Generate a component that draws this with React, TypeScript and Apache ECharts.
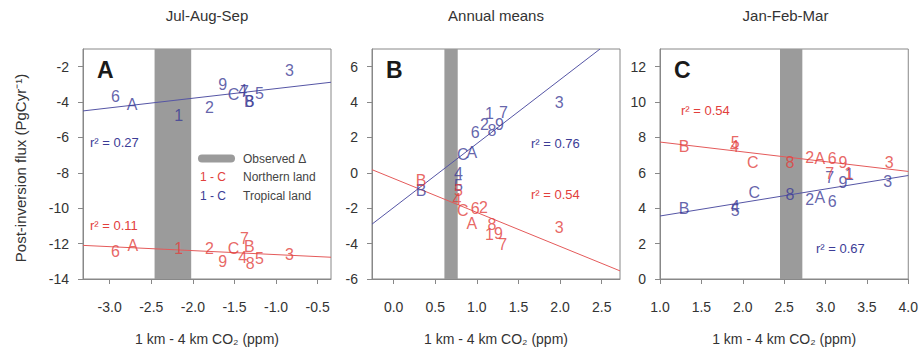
import React, { useEffect, useRef } from "react";
import * as echarts from "echarts";

const LABELS = ["1", "2", "3", "4", "5", "6", "7", "8", "9", "A", "B", "C"];
const TITLES = ["Jul-Aug-Sep", "Annual means", "Jan-Feb-Mar"];
const PANEL_LETTERS = ["A", "B", "C"];

// Panel A (Jul-Aug-Sep)
const A_NORTH_X = [-2.17, -1.8, -0.84, -1.4, -1.2, -2.93, -1.38, -1.31, -1.64, -2.72, -1.32, -1.51];
const A_NORTH_Y = [-12.25, -12.25, -12.62, -12.77, -12.84, -12.43, -11.69, -13.13, -13.02, -12.1, -12.19, -12.25];
const A_TROP_X = [-2.17, -1.8, -0.84, -1.4, -1.2, -2.93, -1.38, -1.32, -1.64, -2.73, -1.32, -1.51];
const A_TROP_Y = [-4.78, -4.32, -2.2, -3.36, -3.49, -3.67, -3.4, -3.95, -3.03, -4.14, -3.95, -3.58];

// Panel B (Annual means)
const B_NORTH_X = [1.15, 1.08, 1.99, 0.76, 0.78, 0.98, 1.31, 1.18, 1.26, 0.94, 0.33, 0.83];
const B_NORTH_Y = [-3.51, -1.95, -3.11, -1.48, -0.97, -2.03, -4.03, -2.92, -3.42, -2.86, -0.41, -2.13];
const B_TROP_X = [1.15, 1.09, 1.99, 0.78, 0.78, 0.98, 1.32, 1.18, 1.27, 0.94, 0.33, 0.83];
const B_TROP_Y = [3.35, 2.72, 3.96, -0.04, -0.7, 2.3, 3.4, 2.42, 2.72, 1.13, -1.02, 1.01];

// Panel C (Jan-Feb-Mar)
const C_NORTH_X = [3.28, 2.81, 3.77, 1.9, 1.91, 3.08, 3.05, 2.57, 3.21, 2.93, 1.29, 2.12];
const C_NORTH_Y = [5.99, 6.88, 6.58, 7.47, 7.74, 6.82, 5.99, 6.58, 6.58, 6.82, 7.47, 6.58];
const C_TROP_X = [3.29, 2.81, 3.75, 1.91, 1.91, 3.08, 3.05, 2.57, 3.21, 2.93, 1.29, 2.14];
const C_TROP_Y = [5.9, 4.52, 5.53, 4.11, 3.87, 4.39, 5.71, 4.79, 5.44, 4.61, 3.97, 4.88];

// Regression lines (endpoints)
const A_NORTH_FIT = [[-3.32, -12.1], [-0.34, -12.77]];
const A_TROP_FIT = [[-3.32, -4.5], [-0.34, -2.88]];
const B_NORTH_FIT = [[-0.26, 0.18], [2.72, -5.54]];
const B_TROP_FIT = [[-0.26, -2.9], [2.48, 7.0]];
const C_NORTH_FIT = [[1.0, 7.74], [4.0, 6.08]];
const C_TROP_FIT = [[1.0, 3.56], [4.0, 5.85]];

// Observed delta bands
const OBS_BANDS = [[-2.46, -2.02], [0.61, 0.77], [2.45, 2.72]];

// r-squared values
const R2_NORTH = ["0.11", "0.54", "0.54"];
const R2_TROP = ["0.27", "0.76", "0.67"];

// Axes
const X_MIN = [-3.32, -0.26, 1.0];
const X_MAX = [-0.34, 2.72, 4.0];
const X_TICKS = [
  [-3.0, -2.5, -2.0, -1.5, -1.0, -0.5],
  [0.0, 0.5, 1.0, 1.5, 2.0, 2.5],
  [1.0, 1.5, 2.0, 2.5, 3.0, 3.5, 4.0],
];
const Y_MIN = [-14, -6, 0];
const Y_MAX = [-1, 7, 13];

const RED = "#e2403c";
const BLUE = "#3c3c96";
const RED_LINE = "#e45a5a";
const BLUE_LINE = "#5555a5";
const FONT = "Liberation Sans, Arial, sans-serif";

const GRIDS = [
  { left: 83, top: 49, width: 248, height: 236 },
  { left: 372, top: 49, width: 248, height: 236 },
  { left: 660, top: 49, width: 251, height: 236 },
];

export default function App() {
  const ref = useRef<HTMLDivElement>(null);

  useEffect(() => {
    if (!ref.current) return;
    const chart = echarts.init(ref.current, undefined, { renderer: "svg" });

    const north = [
      [A_NORTH_X, A_NORTH_Y],
      [B_NORTH_X, B_NORTH_Y],
      [C_NORTH_X, C_NORTH_Y],
    ];
    const trop = [
      [A_TROP_X, A_TROP_Y],
      [B_TROP_X, B_TROP_Y],
      [C_TROP_X, C_TROP_Y],
    ];
    const northFit = [A_NORTH_FIT, B_NORTH_FIT, C_NORTH_FIT];
    const tropFit = [A_TROP_FIT, B_TROP_FIT, C_TROP_FIT];

    const series: any[] = [];
    for (let i = 0; i < 3; i++) {
      series.push({
        type: "custom",
        xAxisIndex: i,
        yAxisIndex: i,
        z: 1,
        silent: true,
        data: [OBS_BANDS[i]],
        renderItem: (params: any, api: any) => {
          const x1 = api.coord([api.value(0), Y_MIN[i]]);
          const x2 = api.coord([api.value(1), Y_MIN[i]]);
          const cs = params.coordSys;
          return {
            type: "rect",
            shape: { x: x1[0], y: cs.y, width: x2[0] - x1[0], height: cs.height },
            style: { fill: "#9b9b9b" },
          };
        },
      });
      const fits = [
        [northFit[i], RED_LINE],
        [tropFit[i], BLUE_LINE],
      ];
      for (const [d, c] of fits as any) {
        series.push({
          type: "line",
          xAxisIndex: i,
          yAxisIndex: i,
          z: 2,
          data: d,
          symbol: "none",
          clip: true,
          lineStyle: { color: c, width: 1 },
        });
      }
      const pts = [
        [trop[i], BLUE],
        [north[i], RED],
      ];
      for (const [[xs, ys], c] of pts as any) {
        series.push({
          type: "scatter",
          xAxisIndex: i,
          yAxisIndex: i,
          z: 3,
          symbol: "circle",
          symbolSize: 1,
          itemStyle: { color: "rgba(0,0,0,0)" },
          data: LABELS.map((l, k) => [xs[k], ys[k], l]),
          label: {
            show: true,
            position: "inside",
            formatter: (p: any) => p.data[2],
            color: c,
            fontSize: 16,
            fontFamily: FONT,
          },
        });
      }
    }

    const graphics: any[] = [];
    const txt = (text: string, x: number, y: number, fill: string, font: string, align = "left", extra: any = {}) =>
      graphics.push({
        type: "text",
        x,
        y,
        ...extra,
        style: { text, fill, font, textAlign: align, align, textVerticalAlign: "middle", verticalAlign: "middle" },
      });

    for (let i = 0; i < 3; i++) {
      const g = GRIDS[i];
      txt(TITLES[i], g.left + g.width / 2, 15, "#333", `15px ${FONT}`, "center");
      txt(PANEL_LETTERS[i], g.left + 14, 70, "#1a1a1a", `bold 23px ${FONT}`, "left");
    }
    txt("Post-inversion flux (PgCyr\u207B\u00B9)", 20, 168, "#333", `15px ${FONT}`, "center", { rotation: Math.PI / 2 });

    // r^2 labels
    txt(`r\u00B2 = ${R2_TROP[0]}`, 90, 142, BLUE, `13px ${FONT}`);
    txt(`r\u00B2 = ${R2_NORTH[0]}`, 90, 225, RED, `13px ${FONT}`);
    txt(`r\u00B2 = ${R2_TROP[1]}`, 531, 143, BLUE, `13px ${FONT}`);
    txt(`r\u00B2 = ${R2_NORTH[1]}`, 531, 194, RED, `13px ${FONT}`);
    txt(`r\u00B2 = ${R2_NORTH[2]}`, 681, 110, RED, `13px ${FONT}`);
    txt(`r\u00B2 = ${R2_TROP[2]}`, 816, 248, BLUE, `13px ${FONT}`);

    // legend in panel A
    graphics.push({
      type: "rect",
      shape: { x: 198, y: 154.5, width: 37, height: 8, r: 4 },
      style: { fill: "#9b9b9b" },
    });
    txt("Observed \u0394", 243, 159, "#444", `12px ${FONT}`);
    txt("1 - C", 200, 177, RED, `12px ${FONT}`);
    txt("Northern land", 243, 177, "#444", `12px ${FONT}`);
    txt("1 - C", 200, 196, BLUE, `12px ${FONT}`);
    txt("Tropical land", 243, 196, "#444", `12px ${FONT}`);

    chart.setOption({
      animation: false,
      grid: GRIDS.map((g) => ({ ...g, show: true, borderColor: "#888", borderWidth: 1, backgroundColor: "transparent" })),
      xAxis: [0, 1, 2].map((i) => ({
        type: "value",
        gridIndex: i,
        min: X_MIN[i],
        max: X_MAX[i],
        splitLine: { show: false },
        axisLine: { show: true, onZero: false, lineStyle: { color: "#888" } },
        axisTick: { show: true, customValues: X_TICKS[i], length: 5, lineStyle: { color: "#888" } },
        axisLabel: {
          customValues: X_TICKS[i],
          formatter: (v: number) => v.toFixed(1),
          color: "#333",
          fontSize: 14,
          fontFamily: FONT,
          margin: 21,
        },
        name: "1 km - 4 km CO\u2082 (ppm)",
        nameLocation: "middle",
        nameGap: 53,
        nameTextStyle: { color: "#333", fontSize: 14, fontFamily: FONT },
      })),
      yAxis: [0, 1, 2].map((i) => ({
        type: "value",
        gridIndex: i,
        min: Y_MIN[i],
        max: Y_MAX[i],
        interval: 2,
        splitLine: { show: false },
        axisLine: { show: true, onZero: false, lineStyle: { color: "#888" } },
        axisTick: { show: true, length: 5, lineStyle: { color: "#888" } },
        axisLabel: {
          color: "#333",
          fontSize: 14,
          fontFamily: FONT,
          margin: 14,
          showMaxLabel: false,
          formatter: (v: number) => (v === Y_MAX[i] ? "" : String(v)),
        },
      })),
      series,
      graphic: graphics,
    });

    return () => chart.dispose();
  }, []);

  return <div ref={ref} style={{ position: "absolute", left: 0, top: 0, width: 921, height: 351 }} />;
}
